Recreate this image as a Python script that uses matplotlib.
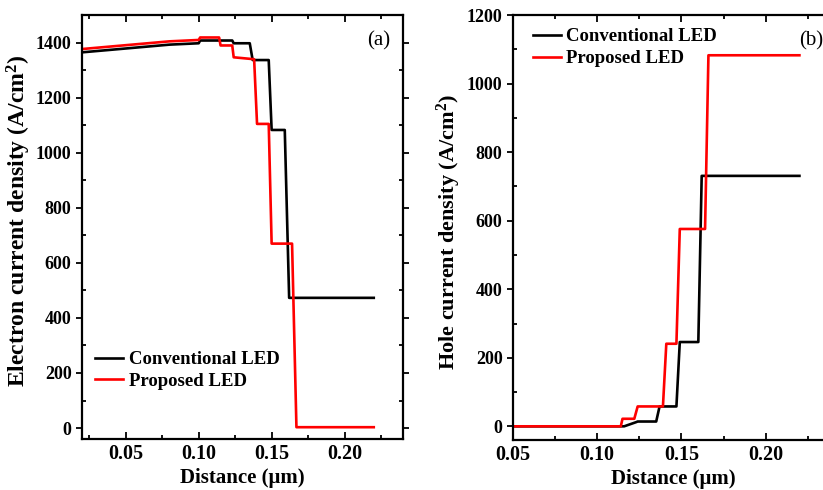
import matplotlib.pyplot as plt
from matplotlib.ticker import MultipleLocator

# (a) electron current density
dist_e_conv = [0.02, 0.08, 0.100, 0.101, 0.123, 0.124, 0.135, 0.137, 0.148, 0.150,
               0.159, 0.162, 0.22]
elec_conv = [1365, 1393, 1398, 1408, 1408, 1398, 1398, 1337, 1337, 1083, 1083, 473, 473]

dist_e_prop = [0.02, 0.08, 0.100, 0.101, 0.114, 0.115, 0.123, 0.124, 0.138, 0.140,
               0.148, 0.150, 0.164, 0.167, 0.22]
elec_prop = [1377, 1405, 1410, 1419, 1419, 1390, 1390, 1347, 1340, 1105, 1105, 670, 670, 3, 3]

# (b) hole current density
dist_h_conv = [0.05, 0.116, 0.123, 0.124, 0.135, 0.137, 0.147, 0.149, 0.160, 0.162, 0.22]
hole_conv = [0, 0, 12, 14, 14, 58, 58, 246, 246, 731, 731]

dist_h_prop = [0.05, 0.114, 0.115, 0.122, 0.124, 0.139, 0.141, 0.147, 0.149, 0.164, 0.166, 0.22]
hole_prop = [0, 0, 22, 22, 58, 58, 241, 241, 576, 576, 1083, 1083]

labels = ["Conventional LED", "Proposed LED"]
colors = ["black", "red"]

plt.rcParams['font.family'] = ['Liberation Serif', 'DejaVu Serif']
plt.rcParams['font.weight'] = 'bold'
plt.rcParams['mathtext.default'] = 'regular'

fig = plt.figure(figsize=(8.23, 4.9), dpi=100)
ax1 = fig.add_axes([0.0996, 0.104, 0.390, 0.865])
ax2 = fig.add_axes([0.6233, 0.102, 0.389, 0.867])


def estilo(ax):
    for s in ax.spines.values():
        s.set_linewidth(1.6)
    ax.tick_params(which='both', top=True, right=True, width=1.3)
    ax.tick_params(axis='x', labelsize=14.5)
    ax.tick_params(axis='y', labelsize=13)
    ax.tick_params(axis='x', which='both', direction='in')
    ax.tick_params(axis='y', which='major', direction='out', length=4)
    ax.tick_params(axis='y', which='minor', direction='in', length=3)
    ax.tick_params(axis='x', which='major', length=5)
    ax.tick_params(axis='x', which='minor', length=3)
    ax.tick_params(axis='y', which='both', right=True)
    ax.xaxis.set_major_locator(MultipleLocator(0.05))
    ax.xaxis.set_minor_locator(MultipleLocator(0.025))
    ax.xaxis.set_major_formatter(plt.FormatStrFormatter('%.2f'))
    ax.yaxis.set_minor_locator(MultipleLocator(100))
    ax.set_xlabel("Distance (μm)", fontsize=15, fontweight='bold', labelpad=3)


ax1.plot(dist_e_conv, elec_conv, color=colors[0], lw=1.9, label=labels[0])
ax1.plot(dist_e_prop, elec_prop, color=colors[1], lw=1.9, label=labels[1])
ax1.set_xlim(0.02, 0.24)
ax1.set_ylim(-40, 1500)
ax1.yaxis.set_major_locator(MultipleLocator(200))
estilo(ax1)
ax1.set_ylabel("Electron current density (A/cm$^2$)", fontsize=17, fontweight='bold')
ax1.yaxis.set_label_coords(-0.153, 0.515)
ax1.text(0.925, 0.94, "(a)", transform=ax1.transAxes, fontsize=15, fontweight='normal',
         ha='center', va='center')
ax1.legend(loc='lower left', bbox_to_anchor=(0.0, 0.085), frameon=False, fontsize=13.5,
           handlelength=1.5, handletextpad=0.3, borderpad=0.2, labelspacing=0.25)

ax2.plot(dist_h_conv, hole_conv, color=colors[0], lw=1.9, label=labels[0])
ax2.plot(dist_h_prop, hole_prop, color=colors[1], lw=1.9, label=labels[1])
ax2.set_xlim(0.05, 0.24)
ax2.set_ylim(-40, 1200)
ax2.yaxis.set_major_locator(MultipleLocator(200))
estilo(ax2)
ax2.set_ylabel("Hole current density (A/cm$^2$)", fontsize=16, fontweight='bold')
ax2.yaxis.set_label_coords(-0.156, 0.49)
ax2.text(0.93, 0.94, "(b)", transform=ax2.transAxes, fontsize=15, fontweight='normal',
         ha='center', va='center')
ax2.legend(loc='upper left', bbox_to_anchor=(0.02, 1.0), frameon=False, fontsize=13.5,
           handlelength=1.5, handletextpad=0.3, borderpad=0.2, labelspacing=0.25)

fig.savefig("out.png", dpi=100)
